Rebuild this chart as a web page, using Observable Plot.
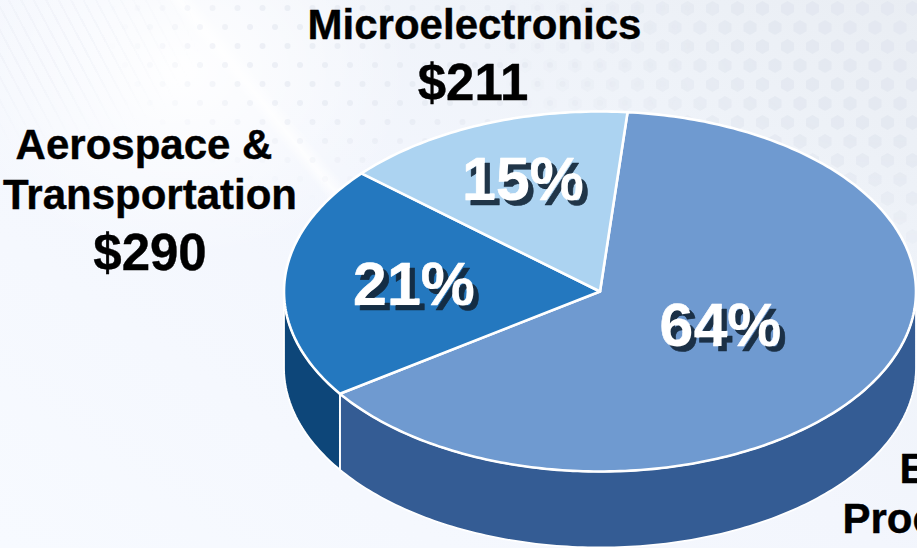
<!DOCTYPE html>
<html>
<head>
<meta charset="utf-8">
<script src="https://cdn.jsdelivr.net/npm/d3@7"></script>
<script src="https://cdn.jsdelivr.net/npm/@observablehq/plot@0.6"></script>
<style>
  html, body { margin: 0; padding: 0; overflow: hidden; }
  #stage { position: relative; width: 917px; height: 548px; overflow: hidden;
    background:
      radial-gradient(ellipse 230px 190px at 180px 70px, rgba(255,255,255,.95), rgba(255,255,255,0)),
      linear-gradient(51deg, rgba(255,255,255,0) 44.8%, rgba(255,255,255,.8) 45.8%, rgba(255,255,255,0) 47%),
      linear-gradient(215deg, #e9edf3 0%, #eff3f9 24%, #f3f6fd 48%, #f7faff 100%); }
  .texture { position: absolute; inset: 0; }
  #hexes {
    background-image: url("data:image/svg+xml,%3Csvg xmlns='http://www.w3.org/2000/svg' width='25' height='38'%3E%3Cg fill='%23e1e6ef'%3E%3Cpolygon points='12.5,1 19,4.8 19,12.2 12.5,16 6,12.2 6,4.8'/%3E%3Cpolygon points='0,20 6.5,23.8 6.5,31.2 0,35 -6.5,31.2 -6.5,23.8'/%3E%3Cpolygon points='25,20 31.5,23.8 31.5,31.2 25,35 18.5,31.2 18.5,23.8'/%3E%3C/g%3E%3C/svg%3E");
    -webkit-mask-image: radial-gradient(ellipse 430px 270px at 917px 30px, rgba(0,0,0,.7) 40%, rgba(0,0,0,0) 100%);
    mask-image: radial-gradient(ellipse 430px 270px at 917px 30px, rgba(0,0,0,.7) 40%, rgba(0,0,0,0) 100%);
  }
  #dots {
    background-image: url("data:image/svg+xml,%3Csvg xmlns='http://www.w3.org/2000/svg' width='25' height='38'%3E%3Cg fill='%23e3e7f0'%3E%3Ccircle cx='12.5' cy='8' r='3'/%3E%3Ccircle cx='0' cy='27' r='3'/%3E%3Ccircle cx='25' cy='27' r='3'/%3E%3C/g%3E%3C/svg%3E");
    -webkit-mask-image: radial-gradient(ellipse 300px 170px at 400px 40px, rgba(0,0,0,.6) 45%, rgba(0,0,0,0) 100%);
    mask-image: radial-gradient(ellipse 300px 170px at 400px 40px, rgba(0,0,0,.6) 45%, rgba(0,0,0,0) 100%);
  }
  #stripes {
    background-image: repeating-linear-gradient(62deg, rgba(215,220,232,.14) 0 2px, rgba(255,255,255,0) 2px 11px);
    -webkit-mask-image: radial-gradient(ellipse 160px 110px at 40px 40px, #000 30%, rgba(0,0,0,0) 100%);
    mask-image: radial-gradient(ellipse 160px 110px at 40px 40px, #000 30%, rgba(0,0,0,0) 100%);
  }
  #stage svg { position: absolute; left: 0; top: 0; background: transparent; display: block; }
  /* Hard drop shadow behind the percentage labels. */
  #stage svg [font-size="61"] { text-shadow: 5px 5px 0 rgba(19, 39, 58, .92); }
</style>
</head>
<body>
<div id="stage">
  <div class="texture" id="hexes"></div>
  <div class="texture" id="dots"></div>
  <div class="texture" id="stripes"></div>
</div>
<script>
// Share of the total per segment, clockwise from just past twelve o'clock.
const segments = ["Products", "Aerospace & Transportation", "Microelectronics"];
const shares = [64, 21, 15];
const topColors = ["#6f9ad0", "#2478bf", "#acd3f1"];
const sideColors = ["#345c94", "#0d4679", "#5f8fb8"];

// Dollar labels stacked beside the pie.
const categoryLines = [
  {text: "Microelectronics", px: 474, py: 38, size: 42, anchor: "middle"},
  {text: "$211", px: 472.5, py: 99, size: 51, anchor: "middle"},
  {text: "Aerospace &", px: 143.5, py: 158, size: 42, anchor: "middle"},
  {text: "Transportation", px: 149.5, py: 208, size: 42, anchor: "middle"},
  {text: "$290", px: 149.5, py: 269, size: 51, anchor: "middle"},
  {text: "E", px: 899, py: 482, size: 42, anchor: "start"},
  {text: "Proc", px: 842, py: 532, size: 42, anchor: "start"}
];
const percentLabels = [
  {text: "64%", px: 720, py: 345},
  {text: "21%", px: 413.5, py: 304},
  {text: "15%", px: 522.5, py: 199}
];

// Ellipse of the pie's top face and the depth of its rim, in pixels.
const cx = 599.5, cy = 291, rx = 316, ry = 180, rim = 76;
const startAngle = 5 * Math.PI / 180;

const unitX = (px) => (px - cx) / rx;
const unitY = (py) => (cy - py) / ry;
const depth = rim / ry;

const arcs = d3.pie().sort(null).startAngle(startAngle).endAngle(startAngle + 2 * Math.PI)(shares);

// Points along a unit-circle arc; angle 0 is the top, growing clockwise.
function arcPoints(a0, a1, drop = 0) {
  const n = Math.max(2, Math.ceil(Math.abs(a1 - a0) * 60));
  return d3.range(n + 1).map((i) => {
    const a = a0 + (a1 - a0) * i / n;
    return {x: Math.sin(a), y: Math.cos(a) - drop};
  });
}

// A top face is the wedge from the centre, closed back on itself.
const topFace = (arc) => {
  const centre = {x: 0, y: 0};
  return [centre, ...arcPoints(arc.startAngle, arc.endAngle), centre];
};

// A rim band exists only for the part of an arc on the near half of the ellipse.
const sideBand = (arc) => {
  const a0 = Math.max(arc.startAngle, Math.PI / 2);
  const a1 = Math.min(arc.endAngle, 3 * Math.PI / 2);
  if (a1 <= a0) return null;
  const upper = arcPoints(a0, a1);
  const lower = arcPoints(a1, a0, depth);
  return [...upper, ...lower, upper[0]];
};

const sideMarks = arcs.flatMap((arc, i) => {
  const band = sideBand(arc);
  return band ? [Plot.line(band, {x: "x", y: "y", curve: "linear", fill: sideColors[i], stroke: "white", strokeWidth: 1.8, strokeLinejoin: "round"})] : [];
});
const topMarks = arcs.map((arc, i) =>
  Plot.line(topFace(arc), {x: "x", y: "y", curve: "linear", fill: topColors[i], stroke: "white", strokeWidth: 2.6, strokeLinejoin: "round"})
);

const fontFamily = "Liberation Sans, Arial, sans-serif";

const categoryMarks = categoryLines.map((d) =>
  Plot.text([d], {
    x: (t) => unitX(t.px), y: (t) => unitY(t.py), text: "text",
    textAnchor: d.anchor, lineAnchor: "bottom",
    fontSize: d.size, fontWeight: 700, fontFamily, fill: "#000",
    stroke: "#000", strokeWidth: 0.4
  })
);

const percentMark = Plot.text(percentLabels, {
  x: (t) => unitX(t.px), y: (t) => unitY(t.py), text: "text",
  textAnchor: "middle", lineAnchor: "bottom",
  fontSize: 61, fontWeight: 700, fontFamily, fill: "#ffffff",
  stroke: "#ffffff", strokeWidth: 0.6
});

const chart = Plot.plot({
  width: 917,
  height: 548,
  margin: 0,
  style: {background: "transparent"},
  x: {axis: null, domain: [-1, 1], range: [cx - rx, cx + rx]},
  y: {axis: null, domain: [-1, 1], range: [cy + ry, cy - ry]},
  marks: [
    ...sideMarks,
    ...topMarks,
    percentMark,
    ...categoryMarks
  ]
});

document.getElementById("stage").append(chart);
</script>
</body>
</html>
